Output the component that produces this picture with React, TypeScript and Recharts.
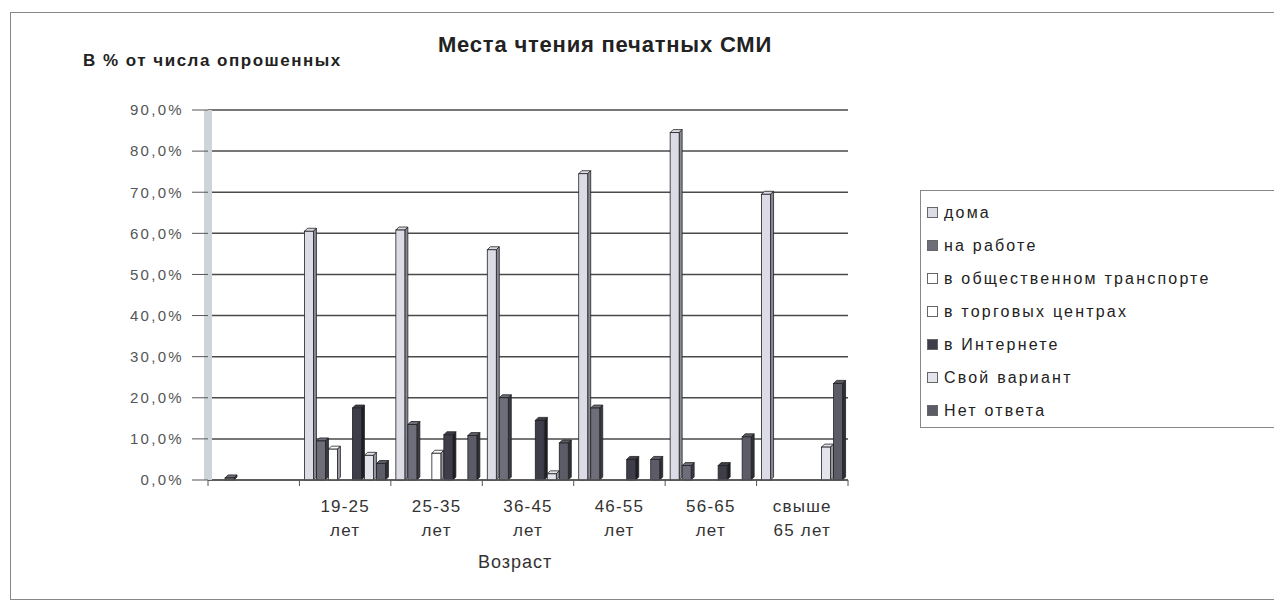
import { BarChart, Bar, XAxis, YAxis, CartesianGrid } from "recharts";

const ages = ["", "19-25 лет", "25-35 лет", "36-45 лет", "46-55 лет", "56-65 лет", "свыше 65 лет"];

const home = [0, 60.5, 60.8, 56, 74.5, 84.5, 69.5];
const atWork = [0.5, 9.5, 13.5, 20, 17.5, 3.5, 0];
const transport = [0, 7.5, 0, 0, 0, 0, 0];
const malls = [0, 0, 6.5, 0, 0, 0, 0];
const internet = [0, 17.5, 11, 14.5, 5, 3.5, 0];
const ownVariant = [0, 6, 0, 1.5, 0, 0, 8];
const noAnswer = [0, 4, 10.8, 9, 5, 10.5, 23.5];

const yTicks = [0, 10, 20, 30, 40, 50, 60, 70, 80, 90];

const series = [
  { key: "home", name: "дома", values: home, fill: "#dcdce6", side: "#8a8a96" },
  { key: "atWork", name: "на работе", values: atWork, fill: "#6e6e7a", side: "#3a3a44" },
  { key: "transport", name: "в общественном транспорте", values: transport, fill: "#ffffff", side: "#9a9aa4" },
  { key: "malls", name: "в торговых центрах", values: malls, fill: "#ffffff", side: "#9a9aa4" },
  { key: "internet", name: "в Интернете", values: internet, fill: "#3e3e4a", side: "#1e1e26" },
  { key: "ownVariant", name: "Свой вариант", values: ownVariant, fill: "#e4e4ec", side: "#9a9aa4" },
  { key: "noAnswer", name: "Нет ответа", values: noAnswer, fill: "#5c5c68", side: "#2e2e36" },
];

const data = ages.map((age, i) => {
  const row: Record<string, string | number> = { age };
  series.forEach((s) => {
    row[s.key] = s.values[i];
  });
  return row;
});

const CHART_W = 1274;
const CHART_H = 590;
const margin = { top: 102, right: 434, bottom: 58, left: 120 };
const plotLeft = 200;
const plotRight = 840;
const band = (plotRight - plotLeft) / ages.length;

const font = "'Liberation Sans', Arial, sans-serif";

function Bar3D(props: any) {
  const { x, y, width, height, fill, side } = props;
  if (!height || height <= 0) return null;
  const d = 3;
  const fw = width - d;
  return (
    <g>
      <polygon
        points={`${x},${y} ${x + d},${y - d} ${x + width},${y - d} ${x + fw},${y}`}
        fill={fill}
        stroke="#222"
        strokeWidth={0.8}
      />
      <polygon
        points={`${x + fw},${y} ${x + width},${y - d} ${x + width},${y + height - d} ${x + fw},${y + height}`}
        fill={side}
        stroke="#222"
        strokeWidth={0.8}
      />
      <rect x={x} y={y} width={fw} height={height} fill={fill} stroke="#222" strokeWidth={0.8} />
    </g>
  );
}

function AgeTick(props: any) {
  const { x, y, payload, index } = props;
  const label: string = payload.value;
  const sp = label.indexOf(" ");
  const lines = sp > 0 ? [label.slice(0, sp), label.slice(sp + 1)] : [label];
  const axisY = y - 8;
  return (
    <g>
      <line x1={x - band / 2} y1={axisY} x2={x - band / 2} y2={axisY + 6} stroke="#555" />
      {index === ages.length - 1 && (
        <line x1={x + band / 2} y1={axisY} x2={x + band / 2} y2={axisY + 6} stroke="#555" />
      )}
      {lines.map((l, i) => (
        <text
          key={i}
          x={x}
          y={axisY + 32 + i * 24}
          textAnchor="middle"
          fontSize={17}
          letterSpacing={1.2}
          fill="#333"
          fontFamily={font}
        >
          {l}
        </text>
      ))}
    </g>
  );
}

export default function App() {
  return (
    <div style={{ position: "relative", width: CHART_W, height: CHART_H + 4, fontFamily: font }}>
      <div
        style={{
          position: "absolute",
          left: 2,
          top: 4,
          width: 1272,
          height: 588,
          border: "1px solid #888",
          boxSizing: "border-box",
        }}
      />
      <div
        style={{
          position: "absolute",
          left: 0,
          width: 1194,
          top: 24,
          textAlign: "center",
          fontSize: 22,
          fontWeight: "bold",
          letterSpacing: 0.8,
          color: "#222",
        }}
      >
        Места чтения печатных СМИ
      </div>
      <div
        style={{
          position: "absolute",
          left: 75,
          top: 43,
          fontSize: 17,
          fontWeight: "bold",
          letterSpacing: 1.5,
          color: "#222",
        }}
      >
        В % от числа опрошенных
      </div>
      <div
        style={{
          position: "absolute",
          left: 470,
          top: 544,
          fontSize: 18,
          letterSpacing: 1,
          color: "#333",
        }}
      >
        Возраст
      </div>
      <div style={{ position: "absolute", left: 0, top: 0 }}>
        <BarChart
          width={CHART_W}
          height={CHART_H}
          data={data}
          margin={margin}
          barCategoryGap={5}
          barGap={0}
        >
          <CartesianGrid vertical={false} stroke="#4a4a4a" strokeWidth={1.5} />
          <XAxis
            dataKey="age"
            interval={0}
            height={60}
            tick={<AgeTick />}
            tickLine={false}
            axisLine={{ stroke: "#555", strokeWidth: 1.5 }}
          />
          <YAxis
            domain={[0, 90]}
            ticks={yTicks}
            width={80}
            tickSize={16}
            tickMargin={8}
            tickFormatter={(v: number) => `${v.toFixed(1).replace(".", ",")}%`}
            tick={{ fontSize: 15, fill: "#555", fontFamily: font, letterSpacing: 2.3 }}
            tickLine={{ stroke: "#555" }}
            axisLine={{ stroke: "#cdd5d8", strokeWidth: 8 }}
          />
          <YAxis
            yAxisId="right"
            orientation="right"
            width={0}
            domain={[0, 90]}
            tick={false}
            tickLine={false}
            axisLine={{ stroke: "#777" }}
          />
          {series.map((s) => (
            <Bar
              key={s.key}
              dataKey={s.key}
              name={s.name}
              fill={s.fill}
              isAnimationActive={false}
              shape={(p: any) => <Bar3D {...p} side={s.side} />}
            />
          ))}
        </BarChart>
      </div>
      <div
        style={{
          position: "absolute",
          left: 912,
          top: 182,
          width: 362,
          height: 238,
          border: "1px solid #888",
          boxSizing: "border-box",
          background: "#fff",
          padding: "5px 0 0 6px",
        }}
      >
        {series.map((s) => (
          <div key={s.key} style={{ display: "flex", alignItems: "center", height: 33 }}>
            <span
              style={{
                display: "inline-block",
                width: 9,
                height: 9,
                marginRight: 6,
                background: s.fill,
                border: "1px solid #666",
              }}
            />
            <span style={{ fontSize: 16, letterSpacing: 2.2, color: "#222" }}>{s.name}</span>
          </div>
        ))}
      </div>
    </div>
  );
}
